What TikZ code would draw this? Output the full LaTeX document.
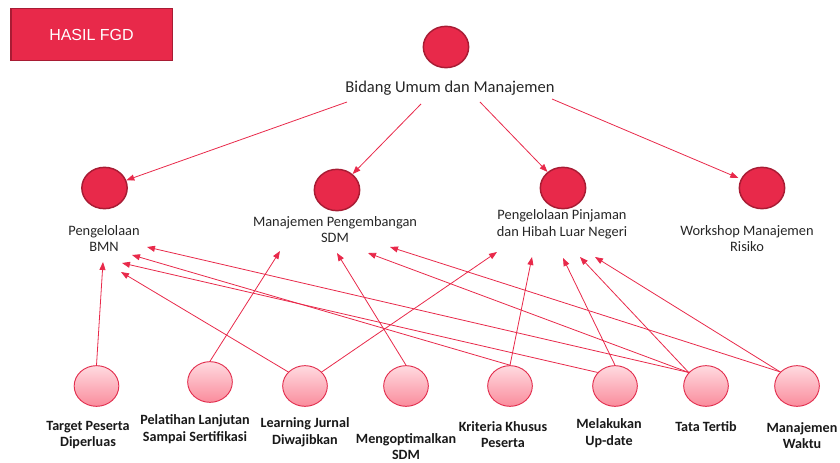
\documentclass[tikz,border=0pt]{standalone}
\usepackage{fontspec}
\setmainfont{Carlito}
\newfontfamily\boxfont{Liberation Sans}
\usetikzlibrary{arrows.meta,shapes.geometric}
\usepackage{xcolor}

\definecolor{fgdred}{RGB}{232,41,74}
\definecolor{fgdrim}{RGB}{168,28,52}
\definecolor{pinktop}{RGB}{255,218,224}
\definecolor{pinkbot}{RGB}{250,140,156}
\definecolor{pinkrim}{RGB}{226,46,78}
\definecolor{inkgrey}{RGB}{38,38,38}

\tikzset{
  topic/.style={ellipse, draw=fgdrim, line width=1.1pt, fill=fgdred,
    minimum width=34pt, minimum height=31pt, inner sep=0pt},
  aspect/.style={ellipse, draw=pinkrim, line width=0.7pt,
    top color=pinktop, bottom color=pinkbot,
    minimum width=33.5pt, minimum height=30.5pt, inner sep=0pt},
  topiclbl/.style={align=center, text=inkgrey, inner sep=0pt,
    font=\fontsize{10.8}{12.6}\selectfont},
  aspectlbl/.style={align=center, text=black!90, inner sep=0pt,
    font=\bfseries\fontsize{10.6}{12.6}\selectfont},
  ptr/.style={draw=fgdred, line width=0.6pt, -{Triangle[length=6pt,width=4.5pt]}}
}

\begin{document}
\begin{tikzpicture}[x=0.75pt,y=-0.75pt]
\useasboundingbox (0,0) rectangle (840,463);

% title box
\node[draw=fgdrim, line width=1pt, fill=fgdred, minimum width=121pt, minimum height=39pt,
  text=white, font=\boxfont\fontsize{12}{14}\selectfont] (title) at (91.5,34.5) {HASIL FGD};

% root
\node[topic] (bidang) at (446,47) {};
\node[topiclbl, font=\fontsize{12.4}{15}\selectfont] (bidang-lbl) at (450,88) {Bidang Umum dan Manajemen};

% second level
\node[topic] (bmn) at (104.5,188) {};
\node[topiclbl] (bmn-lbl) at (104,238.5) {Pengelolaan\\BMN};
\node[topic] (sdm) at (337,190) {};
\node[topiclbl] (sdm-lbl) at (335,229.5) {Manajemen Pengembangan\\SDM};
\node[topic] (phln) at (563,188) {};
\node[topiclbl] (phln-lbl) at (562,224) {Pengelolaan Pinjaman\\dan Hibah Luar Negeri};
\node[topic] (risiko) at (762,188) {};
\node[topiclbl] (risiko-lbl) at (747,238.5) {Workshop Manajemen\\Risiko};

% FGD points
\node[aspect] (target) at (96.5,386) {};
\node[aspectlbl] (target-lbl) at (88,435) {Target Peserta\\Diperluas};
\node[aspect] (pelatihan) at (210,382) {};
\node[aspectlbl] (pelatihan-lbl) at (195,429.5) {Pelatihan Lanjutan\\Sampai Sertifikasi};
\node[aspect] (jurnal) at (305,386) {};
\node[aspectlbl] (jurnal-lbl) at (305,432.5) {Learning Jurnal\\Diwajibkan};
\node[aspect] (optimal) at (406,386) {};
\node[aspectlbl] (optimal-lbl) at (406,446.5) {Mengoptimalkan\\SDM};
\node[aspect] (kriteria) at (510,386) {};
\node[aspectlbl] (kriteria-lbl) at (503,434.5) {Kriteria Khusus\\Peserta};
\node[aspect] (update) at (615,386) {};
\node[aspectlbl] (update-lbl) at (609,433.5) {Melakukan\\Up-date};
\node[aspect] (tertib) at (706,386) {};
\node[aspectlbl] (tertib-lbl) at (706,427) {Tata Tertib};
\node[aspect] (waktu) at (797,386) {};
\node[aspectlbl] (waktu-lbl) at (802,435.5) {Manajemen\\Waktu};

% arrow ends under the labels
\coordinate (root-a) at (347,102);
\coordinate (root-b) at (421,104);
\coordinate (root-c) at (480,102);
\coordinate (root-d) at (552,99);
\coordinate (bmn1) at (147,247);
\coordinate (bmn2) at (132,255);
\coordinate (bmn3) at (122,263);
\coordinate (bmn4) at (121,272);
\coordinate (bmn5) at (103,262);
\coordinate (sdm1) at (280,251);
\coordinate (sdm2) at (337,253);
\coordinate (sdm3) at (368,253);
\coordinate (sdm4) at (390,247);
\coordinate (phln1) at (497,252);
\coordinate (phln2) at (532,257);
\coordinate (phln3) at (563,258);
\coordinate (phln4) at (580,257);
\coordinate (phln5) at (595,257);

\draw[ptr] (root-a) -- (bmn);
\draw[ptr] (root-b) -- (sdm);
\draw[ptr] (root-c) -- (phln);
\draw[ptr, shorten >=2pt] (root-d) -- (risiko);

\draw[ptr] (target.north) -- (bmn5);
\draw[ptr] (pelatihan.north) -- (sdm1);
\draw[ptr] (jurnal.140) -- (bmn4);
\draw[ptr] (jurnal.40) -- (phln1);
\draw[ptr] (optimal.north) -- (sdm2);
\draw[ptr] (kriteria.north) -- (bmn2);
\draw[ptr] (kriteria.north) -- (phln2);
\draw[ptr] (update.142) -- (bmn3);
\draw[ptr] (update.north) -- (phln3);
\draw[ptr] (tertib.142) -- (bmn1);
\draw[ptr] (tertib.142) -- (sdm3);
\draw[ptr] (tertib.142) -- (phln4);
\draw[ptr] (waktu.140) -- (sdm4);
\draw[ptr] (waktu.140) -- (phln5);
\end{tikzpicture}
\end{document}
